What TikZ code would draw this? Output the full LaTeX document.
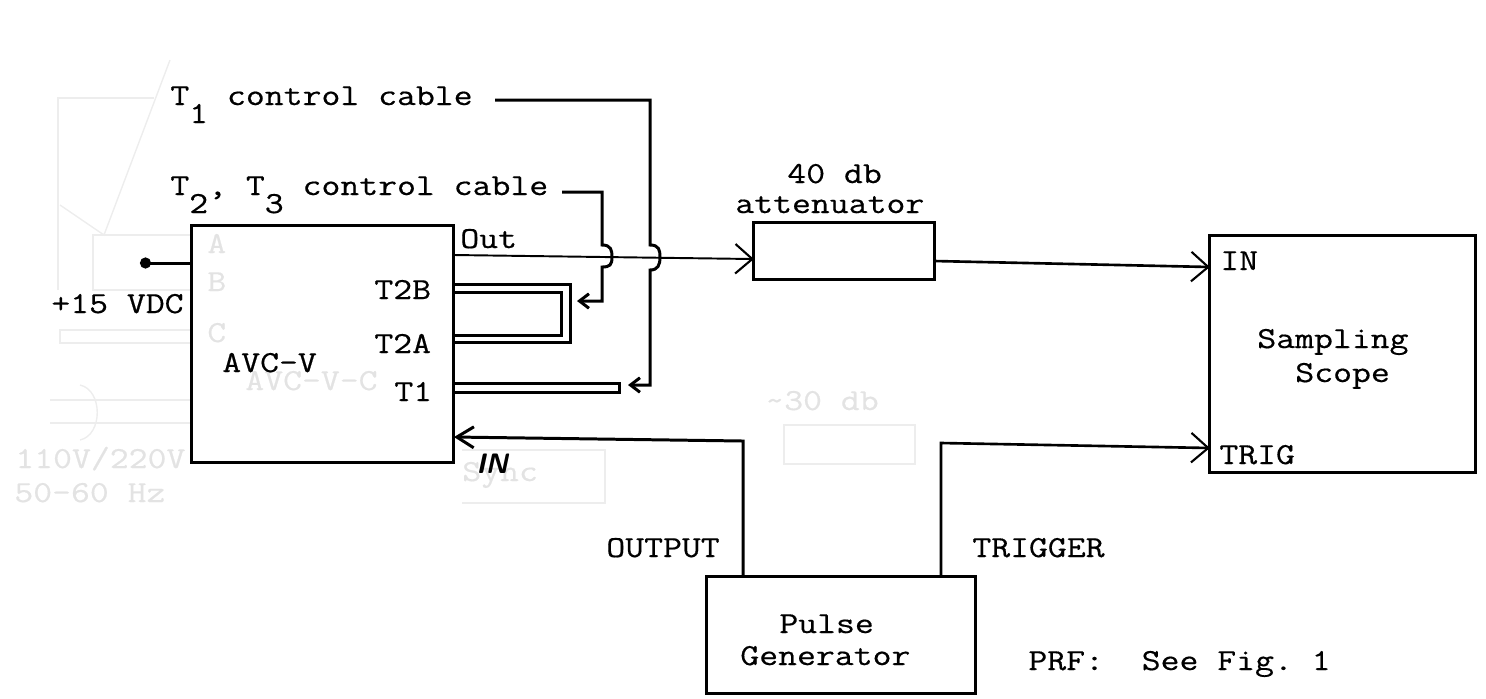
\documentclass[tikz,border=0pt]{standalone}
\usepackage{fontspec}
\setmonofont[FakeStretch=1.2, FakeBold=0.5]{Latin Modern Mono}
\usetikzlibrary{arrows.meta, positioning}

\newcommand{\lowsub}[1]{\raisebox{-0.36cm}{#1}}

\begin{document}
\begin{tikzpicture}[
    x=0.02cm, y=-0.02cm,
    box/.style={rectangle, draw=black, line width=1.7pt, inner sep=0pt, outer sep=0pt},
    lbl/.style={anchor=base west, inner sep=0pt, font=\fontsize{17.4}{20}\selectfont\ttfamily},
    ghost/.style={lbl, text=black!11},
    ghostline/.style={draw=black!7, line width=0.8pt},
    wire/.style={line width=1.7pt},
    arr/.style={-{Straight Barb[length=3.4mm, width=5.9mm, line width=1.2pt]}, line width=1.5pt},
    arrbold/.style={-{Straight Barb[length=3.4mm, width=4.2mm, line width=1.7pt]}, wire},
    arrsmall/.style={-{Straight Barb[length=1.9mm, width=2.9mm, line width=1.7pt]}, wire},
]
\useasboundingbox (0,0) rectangle (1486,698);

% ── Show-through from the other side of the sheet ──
\draw[ghostline] (58,290) -- (58,98) -- (154,98);
\draw[ghostline] (170,60) -- (104,235) -- (60,205);
\draw[ghostline] (190,235) -- (93,235) -- (93,290) -- (190,290);
\draw[ghostline] (190,330) -- (60,330) -- (60,343) -- (190,343);
\draw[ghostline] (50,400) -- (190,400);
\draw[ghostline] (50,423) -- (190,423);
\draw[ghostline] (80,385) .. controls (103,390) and (103,435) .. (80,440);
\draw[ghostline] (784,425) rectangle (915,464);
\draw[ghostline] (462,450) -- (605,450) -- (605,503) -- (462,503);
\node[ghost] (ga) at (207,253) {A};
\node[ghost] (gb) at (207,291) {B};
\node[ghost] (gc) at (207,342) {C};
\node[ghost] (gavc) at (245,390) {AVC-V-C};
\node[ghost] (gmains) at (15,468) {110V/220V};
\node[ghost] (gfreq) at (14,502) {50-60 Hz};
\node[ghost] (gatt) at (765,410) {\char`\~30 db};
\node[ghost] (gsync) at (462,481) {Sync};

% ── Main boxes ──
\node[box, minimum width=5.26cm, minimum height=4.76cm] (avc) at (322.5,344) {};
\node[box, minimum width=3.62cm, minimum height=1.14cm, right=6cm of avc, yshift=1.87cm] (atten) {};
\node[box, minimum width=5.32cm, minimum height=4.76cm, right=5.5cm of atten, yshift=-2.07cm] (scope) {};
\node[box, minimum width=5.4cm, minimum height=2.34cm] (pulse) at (841,634.5) {};

% ── Labels ──
\node[lbl] (t1cable) at (170,105) {T\lowsub{1} control cable};
\node[lbl] (t2cable) at (170,195) {T\lowsub{2}, T\lowsub{3} control cable};
\node[lbl] (out) at (460,248) {Out};
\node[lbl] (vdc) at (51,313) {+15 VDC};
\node[lbl] (t2b) at (374,299) {T2B};
\node[lbl] (t2a) at (374,353) {T2A};
\node[lbl] (t1) at (394,401) {T1};
\node[lbl] (avclabel) at (222,372) {AVC-V};
\node[lbl] (db) at (787,183) {40 db};
\node[lbl] (attlabel) at (735,213) {attenuator};
\node[lbl] (scopein) at (1220,270) {IN};
\node[lbl] (scopetrig) at (1219,464) {TRIG};
\node[lbl] (sampling) at (1257,348) {Sampling};
\node[lbl] (scopelabel) at (1295,382) {Scope};
\node[lbl] (output) at (606,557) {OUTPUT};
\node[lbl] (trigger) at (972,557) {TRIGGER};
\node[lbl] (pulselabel) at (779,633) {Pulse};
\node[lbl] (genlabel) at (740,665) {Generator};
\node[lbl] (prf) at (1028,670) {PRF:\ \ See Fig. 1};
\node[anchor=base west, inner sep=0pt, font=\fontsize{16}{18}\selectfont\sffamily\bfseries\itshape] (avcin) at (476,473) {IN};

% ── Free ends of the cables ──
\coordinate (t1start) at (495,100);
\coordinate (t2start) at (562,192);
\coordinate (t1tip) at (628,385);
\coordinate (t2tip) at (577,301);
\coordinate (supply) at (140,263);

% ── Signal path ──
\draw[wire, {Circle[length=2.2mm, width=2.2mm]}-] (supply) -- (supply -| avc.west);
\draw[arr, line width=1.1pt] (454,255) -- ([yshift=-0.17cm]atten.west);
\draw[arr] ([yshift=-0.21cm]atten.east) -- (scope.west |- 0,267);
\draw[arr] (941,576) -- (941,443) -- (scope.west |- 0,448);
\draw[arrbold] (743,576) -- (743,441) -- (avc.east |- 0,437);

% ── Stubs on the AVC-V ──
\draw[wire] (454,284) -- (570,284) -- (570,342) -- (454,342);
\draw[wire] (454,292) -- (561,292) -- (561,335) -- (454,335);
\draw[wire] (454,383) -- (619,383) -- (619,392) -- (454,392);

% ── Control cables, jumping over the signal line ──
\draw[arrsmall] (t2start) -- (602,192) -- (602,245)
    .. controls (611,245) and (612,250) .. (612,257)
    .. controls (612,265) and (610,267) .. (602,267) -- (602,301) -- (t2tip);
\draw[arrsmall] (t1start) -- (650,100) -- (650,245)
    .. controls (659,245) and (660,250) .. (660,257)
    .. controls (660,265) and (658,270) .. (650,270) -- (650,385) -- (t1tip);
\end{tikzpicture}
\end{document}
